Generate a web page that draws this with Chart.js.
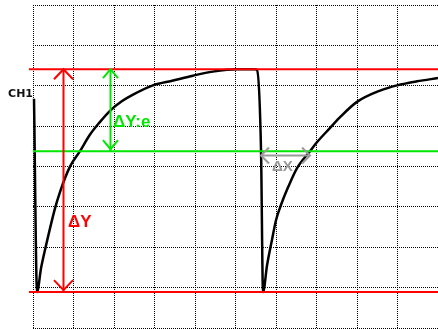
<!DOCTYPE html>
<html lang="en">

<head>
    <title>CH1 trace</title>
    <meta charset="utf-8">
    <script src="https://cdn.jsdelivr.net/npm/chart.js"></script>
    <style>
        body {
            margin: 0;
            background-color: #ffffff;
        }

        canvas {
            display: block;
        }
    </style>
</head>

<body>
    <canvas id="scopeChart" width="438" height="329"></canvas>

    <script>
        // trace, in divisions (10 across, 8 up)
        const traceX = [0.025, 0.10, 0.20, 0.30, 0.54, 0.67, 0.91, 1.16, 1.40, 1.65, 1.90, 2.20, 2.47, 2.96, 3.46, 3.95, 4.44, 5.04, 5.48, 5.53,
            5.63, 5.68, 5.78, 5.90, 6.00, 6.12, 6.30, 6.52, 6.84, 7.01, 7.33, 7.60, 8.00, 8.57, 8.99, 9.48, 10.0];
        const traceY = [5.68, 0.89, 1.49, 1.95, 2.95, 3.38, 3.99, 4.38, 4.78, 5.10, 5.38, 5.62, 5.78, 6.01, 6.13, 6.25, 6.35, 6.41, 6.41, 6.39,
            4.41, 0.89, 1.56, 2.18, 2.67, 3.04, 3.49, 3.96, 4.38, 4.60, 4.95, 5.24, 5.60, 5.88, 6.01, 6.11, 6.19];

        // cursor levels
        const redLevels = [6.41, 0.89];
        const greenLevel = 4.38;

        // delta X span (start, end) and its level
        const deltaXSpan = [5.63, 6.84];
        const deltaXLevel = 4.28;

        const xTicks = [0, 1, 2, 3, 4, 5, 6, 7, 8, 9, 10];
        const yTicks = [0, 1, 2, 3, 4, 5, 6, 7, 8];

        const RED = '#ff0000';
        const GREEN = '#00e600';
        const GRAY = '#9a9a9a';

        const trace = traceX.map((v, i) => ({ x: v, y: traceY[i] }));

        function hLine(level, from, to) {
            return [{ x: from, y: level }, { x: to, y: level }];
        }

        // arrows + texts
        const overlay = {
            id: 'overlay',
            afterDatasetsDraw(chart) {
                const { ctx, scales: { x, y } } = chart;

                function arrowHead(px, py, dx, dy, len, half) {
                    // dx,dy = direction the tip points
                    const nx = -dy, ny = dx;
                    ctx.beginPath();
                    ctx.moveTo(px - dx * len + nx * half, py - dy * len + ny * half);
                    ctx.lineTo(px, py);
                    ctx.lineTo(px - dx * len - nx * half, py - dy * len - ny * half);
                    ctx.stroke();
                }

                function vArrow(xv, y1, y2, color, len, half) {
                    const px = Math.round(x.getPixelForValue(xv)) + 0.5;
                    const top = y.getPixelForValue(y1);
                    const bot = y.getPixelForValue(y2);
                    ctx.save();
                    ctx.strokeStyle = color;
                    ctx.lineWidth = 2;
                    ctx.beginPath();
                    ctx.moveTo(px, top);
                    ctx.lineTo(px, bot);
                    ctx.stroke();
                    arrowHead(px, top, 0, -1, len, half);
                    arrowHead(px, bot - 2, 0, 1, len, half);
                    ctx.restore();
                }

                vArrow(0.74, redLevels[0], redLevels[1], RED, 10, 9.5);
                vArrow(1.90, redLevels[0], greenLevel, GREEN, 9, 7.5);

                // delta X
                const xl = x.getPixelForValue(deltaXSpan[0]);
                const xr = x.getPixelForValue(deltaXSpan[1]);
                const py = Math.round(y.getPixelForValue(deltaXLevel)) + 0.5;
                ctx.save();
                ctx.strokeStyle = GRAY;
                ctx.lineWidth = 2;
                ctx.beginPath();
                ctx.moveTo(xl, py);
                ctx.lineTo(xr, py);
                ctx.stroke();
                arrowHead(xl, py, -1, 0, 8, 8);
                arrowHead(xr, py, 1, 0, 8, 8);
                ctx.restore();

                // labels
                ctx.save();
                ctx.textBaseline = 'middle';
                ctx.textAlign = 'left';
                ctx.font = 'bold 17px "Liberation Sans", Arial, sans-serif';
                ctx.fillStyle = RED;
                ctx.fillText('ΔY', 68, y.getPixelForValue(2.62));
                ctx.fillStyle = GREEN;
                ctx.fillText('ΔY:e', 113, y.getPixelForValue(5.10));
                ctx.font = 'bold 15px "Liberation Sans", Arial, sans-serif';
                ctx.fillStyle = GRAY;
                ctx.fillText('ΔX', 272, y.getPixelForValue(3.99));
                ctx.font = 'bold 11px "DejaVu Sans", sans-serif';
                ctx.fillStyle = '#111111';
                ctx.textAlign = 'right';
                ctx.fillText('CH1', 33, y.getPixelForValue(5.79));
                ctx.restore();
            }
        };

        const ctxScope = document.getElementById('scopeChart').getContext('2d');
        new Chart(ctxScope, {
            type: 'line',
            data: {
                datasets: [
                    {
                        label: 'ref top',
                        data: hLine(redLevels[0], -0.1, 10),
                        borderColor: RED,
                        borderWidth: 2,
                        pointRadius: 0,
                        clip: false
                    },
                    {
                        label: 'ref bottom',
                        data: hLine(redLevels[1], -0.1, 10),
                        borderColor: RED,
                        borderWidth: 2,
                        pointRadius: 0,
                        clip: false
                    },
                    {
                        label: '1/e level',
                        data: hLine(greenLevel, 0, 10),
                        borderColor: GREEN,
                        borderWidth: 2,
                        pointRadius: 0
                    },
                    {
                        label: 'CH1',
                        data: trace,
                        borderColor: '#000000',
                        borderWidth: 2.5,
                        pointRadius: 0,
                        cubicInterpolationMode: 'monotone',
                        clip: false
                    }
                ]
            },
            options: {
                responsive: false,
                animation: false,
                events: [],
                layout: {
                    padding: { left: 33, top: 5, right: 0, bottom: 1 }
                },
                plugins: {
                    legend: { display: false },
                    tooltip: { enabled: false }
                },
                scales: {
                    x: {
                        type: 'linear',
                        min: 0,
                        max: 10,
                        afterBuildTicks: (s) => { s.ticks = xTicks.map(v => ({ value: v })); },
                        ticks: { display: false },
                        grid: { color: '#000000', lineWidth: 1, drawTicks: false },
                        border: { display: false, dash: [1, 1] }
                    },
                    y: {
                        type: 'linear',
                        min: 0,
                        max: 8,
                        afterBuildTicks: (s) => { s.ticks = yTicks.map(v => ({ value: v })); },
                        ticks: { display: false },
                        grid: { color: '#000000', lineWidth: 1, drawTicks: false },
                        border: { display: false, dash: [1, 1] }
                    }
                }
            },
            plugins: [overlay]
        });
    </script>
</body>

</html>
